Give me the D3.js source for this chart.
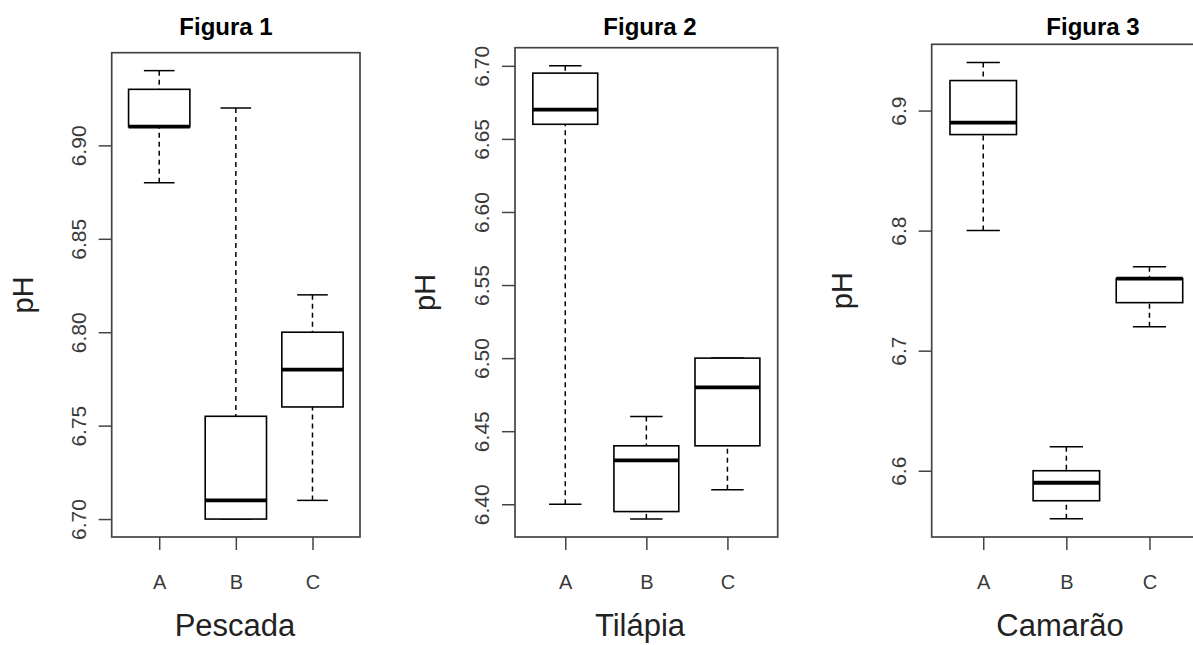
<!DOCTYPE html>
<html>
<head>
<meta charset="utf-8">
<script src="https://cdn.jsdelivr.net/npm/d3@7"></script>
<style>
  body { margin: 0; background: #fff; }
  text { font-family: "Liberation Sans", Arial, sans-serif; }
</style>
</head>
<body>
<script>
// groups on the x axis of every figure
var groups = ["A", "B", "C"];
var figTitles = ["Figura 1", "Figura 2", "Figura 3"];
var xTitles = ["Pescada", "Tilápia", "Camarão"];

// box stats per group: [lower whisker, Q1, median, Q3, upper whisker]
var pescada = [
    [6.88, 6.91, 6.91, 6.93, 6.94],
    [6.70, 6.70, 6.71, 6.755, 6.92],
    [6.71, 6.76, 6.78, 6.80, 6.82]
];
var tilapia = [
    [6.40, 6.66, 6.67, 6.695, 6.70],
    [6.39, 6.395, 6.43, 6.44, 6.46],
    [6.41, 6.44, 6.48, 6.50, 6.50]
];
var camarao = [
    [6.80, 6.88, 6.89, 6.925, 6.94],
    [6.56, 6.575, 6.59, 6.60, 6.62],
    [6.72, 6.74, 6.76, 6.76, 6.77]
];

// y tick values
var ticks1 = [6.70, 6.75, 6.80, 6.85, 6.90];
var ticks2 = [6.40, 6.45, 6.50, 6.55, 6.60, 6.65, 6.70];
var ticks3 = [6.6, 6.7, 6.8, 6.9];

var w = 1193, h = 645;

var svg = d3.select("body")
    .append("svg")
    .attr("width", w)
    .attr("height", h);

// where each plot frame sits (the three figures were not the same size)
var panels = [
    { stats: pescada, ticks: ticks1, fmt: ".2f", left: 111.7, right: 360, top: 52.7, bottom: 537,
      titleX: 226, pHx: 33, xLabX: 235 },
    { stats: tilapia, ticks: ticks2, fmt: ".2f", left: 515, right: 777.7, top: 47.7, bottom: 537,
      titleX: 650, pHx: 435, xLabX: 640 },
    { stats: camarao, ticks: ticks3, fmt: ".1f", left: 931.7, right: 1201, top: 44.3, bottom: 537,
      titleX: 1093, pHx: 852, xLabX: 1060 }
];

panels.forEach(function(p, k){
    var g = svg.append("g");

    //R style 4% padding on both axes
    var lo = d3.min(p.stats, function(d){ return d[0]; });
    var hi = d3.max(p.stats, function(d){ return d[4]; });
    var pad = (hi - lo) * 0.04;

    var y = d3.scaleLinear()
        .domain([lo - pad, hi + pad])
        .range([p.bottom, p.top]);

    var x = d3.scaleLinear()
        .domain([0.38, 3.62])
        .range([p.left, p.right]);

    var unit = x(1) - x(0);
    var boxW = unit * 0.8;
    var capW = boxW * 0.5;

    // y axis
    var yAxis = d3.axisLeft(y)
        .tickValues(p.ticks)
        .tickSize(13)
        .tickFormat(d3.format(p.fmt));

    var ya = g.append("g")
        .attr("transform", "translate(" + p.left + ",0)")
        .call(yAxis);
    ya.select(".domain").remove();
    ya.selectAll(".tick line")
        .attr("stroke", "#444")
        .attr("stroke-width", 1.5);
    ya.selectAll("text")
        .attr("transform", "rotate(-90)")
        .attr("x", 0)
        .attr("y", -26)
        .attr("dy", 0)
        .attr("text-anchor", "middle")
        .attr("fill", "#3a3a3a")
        .style("font-size", "21px")
        .style("font-family", "'Liberation Sans', Arial, sans-serif");

    // x axis
    var xAxis = d3.axisBottom(x)
        .tickValues([1, 2, 3])
        .tickSize(13)
        .tickFormat(function(d){ return groups[d - 1]; });

    var xa = g.append("g")
        .attr("transform", "translate(0," + p.bottom + ")")
        .call(xAxis);
    xa.select(".domain").remove();
    xa.selectAll(".tick line")
        .attr("stroke", "#444")
        .attr("stroke-width", 1.5);
    xa.selectAll("text")
        .attr("y", 52)
        .attr("dy", 0)
        .attr("fill", "#3a3a3a")
        .style("font-size", "20px")
        .style("font-family", "'Liberation Sans', Arial, sans-serif");

    // whiskers, dashed, drawn from the staple to the box
    var boxes = g.selectAll(".bx")
        .data(p.stats)
        .enter()
        .append("g")
        .attr("class", "bx");

    boxes.append("line")
        .attr("x1", function(d, i){ return x(i + 1); })
        .attr("x2", function(d, i){ return x(i + 1); })
        .attr("y1", function(d){ return y(d[4]); })
        .attr("y2", function(d){ return y(d[3]); })
        .attr("stroke", "#000")
        .attr("stroke-width", 1.5)
        .attr("stroke-dasharray", "5,4");

    boxes.append("line")
        .attr("x1", function(d, i){ return x(i + 1); })
        .attr("x2", function(d, i){ return x(i + 1); })
        .attr("y1", function(d){ return y(d[0]); })
        .attr("y2", function(d){ return y(d[1]); })
        .attr("stroke", "#000")
        .attr("stroke-width", 1.5)
        .attr("stroke-dasharray", "5,4");

    // staples
    [0, 4].forEach(function(j){
        boxes.append("line")
            .attr("x1", function(d, i){ return x(i + 1) - capW / 2; })
            .attr("x2", function(d, i){ return x(i + 1) + capW / 2; })
            .attr("y1", function(d){ return y(d[j]); })
            .attr("y2", function(d){ return y(d[j]); })
            .attr("stroke", "#000")
            .attr("stroke-width", 1.5);
    });

    // box
    boxes.append("rect")
        .attr("x", function(d, i){ return x(i + 1) - boxW / 2; })
        .attr("width", boxW)
        .attr("y", function(d){ return y(d[3]); })
        .attr("height", function(d){ return y(d[1]) - y(d[3]); })
        .attr("fill", "#fff")
        .attr("stroke", "#000")
        .attr("stroke-width", 1.6);

    // median
    boxes.append("line")
        .attr("x1", function(d, i){ return x(i + 1) - boxW / 2; })
        .attr("x2", function(d, i){ return x(i + 1) + boxW / 2; })
        .attr("y1", function(d){ return y(d[2]); })
        .attr("y2", function(d){ return y(d[2]); })
        .attr("stroke", "#000")
        .attr("stroke-width", 3.8);

    // frame
    g.append("rect")
        .attr("x", p.left)
        .attr("y", p.top)
        .attr("width", p.right - p.left)
        .attr("height", p.bottom - p.top)
        .attr("fill", "none")
        .attr("stroke", "#444")
        .attr("stroke-width", 1.7);

    // title
    g.append("text")
        .attr("x", p.titleX)
        .attr("y", 35)
        .attr("text-anchor", "middle")
        .style("font-size", "24px")
        .style("font-weight", "bold")
        .text(figTitles[k]);

    // y label
    g.append("text")
        .attr("transform", "translate(" + p.pHx + "," + ((p.top + p.bottom) / 2) + ") rotate(-90)")
        .attr("text-anchor", "middle")
        .style("font-size", "29px")
        .attr("fill", "#222")
        .text("pH");

    // x label
    g.append("text")
        .attr("x", p.xLabX)
        .attr("y", 636)
        .attr("text-anchor", "middle")
        .style("font-size", "31px")
        .attr("fill", "#222")
        .text(xTitles[k]);
});
</script>
</body>
</html>
